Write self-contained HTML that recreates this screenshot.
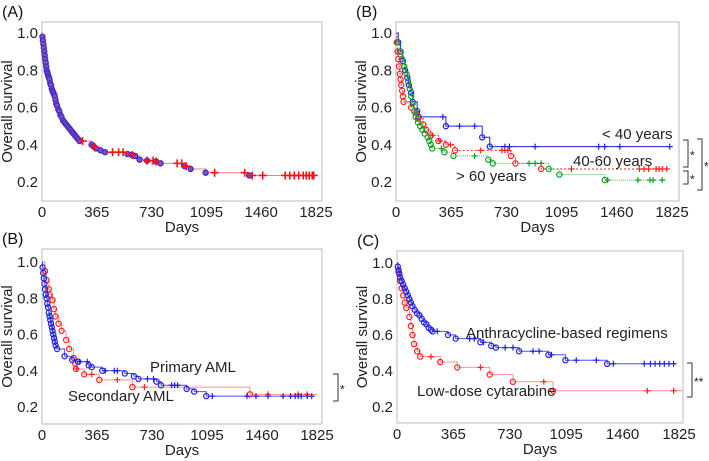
<!DOCTYPE html>
<html><head><meta charset="utf-8"><style>
html,body{margin:0;padding:0;background:#fff}
svg{display:block;font-family:"Liberation Sans",sans-serif}
</style></head><body>
<svg id="fig" width="709" height="461" viewBox="0 0 709 461"></svg>
<script>
// ---- Data ----
const xTicks=[0,365,730,1095,1460,1825];
const yTicks=[0.2,0.4,0.6,0.8,1.0];
const yTickLabels=["0.2","0.4","0.6","0.8","1.0"];
// Panel A
const aTimes=[0,3,6,9,12,15,18,21,25,28,31,35,38,42,46,50,55,60,65,70,75,80,85,90,95,100,108,115,122,130,140,150,160,170,180,190,200,210,220,230,240,250,330,345,360,390,420,570,600,620,650,700,760,790,950,990,1090,1380];
const aSurv=[1,0.98,0.96,0.94,0.92,0.90,0.88,0.86,0.84,0.82,0.80,0.79,0.78,0.77,0.76,0.75,0.73,0.72,0.70,0.69,0.68,0.67,0.66,0.64,0.62,0.61,0.59,0.58,0.56,0.55,0.53,0.52,0.51,0.50,0.49,0.48,0.47,0.46,0.45,0.44,0.43,0.42,0.40,0.39,0.38,0.37,0.36,0.35,0.345,0.34,0.32,0.315,0.31,0.30,0.285,0.27,0.25,0.235];
const aCens=[270,350,470,510,540,600,700,740,760,900,930,960,1150,1350,1400,1470,1620,1650,1680,1710,1740,1760,1780,1800,1810];
// Panel B (age)
const youngTimes=[0,15,30,45,60,75,85,100,110,140,150,330,570,620];
const youngSurv=[1,0.95,0.9,0.85,0.8,0.76,0.72,0.68,0.63,0.58,0.55,0.50,0.44,0.39];
const youngCens=[310,420,520,720,750,920,1340,1380,1480,1810];
const midTimes=[0,5,10,15,20,25,30,35,40,45,50,100,130,145,180,200,230,280,330,390,760,790,960];
const midSurv=[1,0.95,0.9,0.86,0.82,0.78,0.75,0.72,0.69,0.66,0.63,0.6,0.57,0.54,0.51,0.48,0.45,0.42,0.40,0.37,0.34,0.30,0.27];
const midCens=[240,290,360,560,700,720,740,1160,1610,1640,1670,1720,1740,1760,1790];
const oldTimes=[0,10,25,40,55,70,80,90,100,110,120,130,145,160,175,190,210,220,230,240,320,380,610,640,1010,1080,1380];
const oldSurv=[1,0.95,0.9,0.86,0.82,0.78,0.74,0.70,0.66,0.62,0.58,0.55,0.52,0.50,0.48,0.46,0.44,0.42,0.40,0.38,0.36,0.34,0.32,0.30,0.27,0.24,0.21];
const oldCens=[300,520,880,920,960,1400,1600,1680,1700,1760];
// Panel C (AML type)
const primTimes=[0,4,8,12,16,20,25,30,35,40,45,50,55,60,65,70,75,80,85,90,100,150,200,240,310,330,400,550,610,640,760,790,960,1010,1090];
const primSurv=[1,0.97,0.94,0.91,0.88,0.85,0.82,0.80,0.77,0.75,0.72,0.70,0.68,0.66,0.64,0.62,0.60,0.58,0.56,0.54,0.52,0.48,0.46,0.45,0.43,0.42,0.40,0.385,0.37,0.355,0.34,0.32,0.30,0.285,0.26];
const primCens=[250,300,420,480,500,700,740,860,880,900,1130,1360,1420,1500,1600,1650,1680,1700,1720,1760,1790];
const secTimes=[0,20,30,45,50,70,80,90,110,130,160,180,210,220,225,280,380,600,1380];
const secSurv=[1,0.95,0.90,0.85,0.82,0.79,0.74,0.70,0.66,0.62,0.57,0.52,0.47,0.44,0.41,0.38,0.35,0.31,0.27];
const secCens=[230,330,500,680,1500,1700,1760];
// Panel D (treatment)
const anthTimes=[0,5,10,15,20,30,40,50,60,70,80,90,100,115,130,145,160,175,190,205,220,230,330,380,540,610,640,790,980,1090,1360];
const anthSurv=[1,0.98,0.96,0.94,0.92,0.90,0.88,0.86,0.84,0.82,0.80,0.78,0.76,0.74,0.72,0.71,0.69,0.67,0.66,0.64,0.63,0.62,0.60,0.58,0.56,0.54,0.53,0.51,0.49,0.46,0.44];
const anthCens=[260,470,500,560,700,750,880,920,1000,1160,1290,1400,1600,1640,1670,1700,1730,1760,1790];
const ldcTimes=[0,10,20,30,40,50,60,80,90,100,110,130,150,280,390,600,750,1010];
const ldcSurv=[1,0.95,0.90,0.86,0.82,0.78,0.75,0.70,0.65,0.60,0.55,0.51,0.48,0.45,0.42,0.38,0.34,0.29];
const ldcCens=[220,540,950,1620,1790];

const NS="http://www.w3.org/2000/svg";
const svg=document.getElementById('fig');
function mk(tag,attrs,parent){const e=document.createElementNS(NS,tag);for(const k in attrs)e.setAttribute(k,attrs[k]);(parent||svg).appendChild(e);return e;}

function panel(p){
  const g=mk('g',{});
  
  
  const sx=t=>p.x0+(t/1825)*(p.x1825-p.x0);
  const sy=v=>p.y1+(p.y02-p.y1)*(1-v)/0.8;
  const box=mk('rect',{x:p.L,y:p.T,width:p.R-p.L,height:p.B-p.T,fill:'none',stroke:'#bbb','stroke-width':1},g);
  
  
  xTicks.forEach(t=>{
    const tx=mk('text',{x:sx(t),y:p.B+16,'text-anchor':'middle','font-size':15,fill:'#222'},g);
    tx.textContent=t;
    
    
  });
  yTicks.forEach((v,i)=>{
    const ty=mk('text',{x:p.L-4,y:sy(v)+5,'text-anchor':'end','font-size':15,fill:'#222'},g);
    ty.textContent=yTickLabels[i];
    
    
  });
  const xt=mk('text',{x:(p.L+p.R)/2,y:p.B+31,'text-anchor':'middle','font-size':15,fill:'#222'},g);
  xt.textContent='Days';
  
  
  const cy=(p.T+p.B)/2;
  const yt=mk('text',{x:p.L-30,y:cy,'text-anchor':'middle','font-size':15,fill:'#222',transform:`rotate(-90 ${p.L-30} ${cy})`},g);
  yt.textContent='Overall survival';
  
  
  const pl=mk('text',{x:p.L-40,y:p.T-5,'font-size':16,fill:'#111'},g);
  pl.textContent=p.label;
  
  
  p.series.forEach(s=>{
    const sg=mk('g',{},g);
    
    
    let d=`M${sx(s.t[0])},${sy(s.s[0])}`;
    for(let i=1;i<s.t.length;i++){d+=` H${sx(s.t[i])} V${sy(s.s[i])}`;}
    d+=` H${Math.min(sx(s.end),p.R)}`;
    const path=mk('path',{d,fill:'none',stroke:s.line,'stroke-width':1,'stroke-dasharray':s.dash||'none'},sg);
    
    
    for(let i=1;i<s.t.length;i++){
      const c=mk('circle',{cx:sx(s.t[i]),cy:sy(s.s[i]),r:2.6,fill:s.fill||'none',stroke:s.color,'stroke-width':1.2},sg);
      
      
    }
    s.c.forEach(t=>{
      let v=s.s[0];for(let i=0;i<s.t.length;i++){if(s.t[i]<=t)v=s.s[i];}
      const X=sx(t),Y=sy(v),h=s.cs||3;
      const cm=mk('path',{d:`M${X-h},${Y}H${X+h}M${X},${Y-h}V${Y+h}`,stroke:s.ccol||s.color,'stroke-width':s.cw||1.2},sg);
      
      
    });
  });
  (p.texts||[]).forEach(o=>{
    const t=mk('text',{x:o[1],y:o[2],'font-size':15,fill:'#222'},g);
    t.textContent=o[0];
    
    
  });
  (p.brackets||[]).forEach(b=>{
    const bp=mk('path',{d:`M${b[0]-5},${b[1]}H${b[0]}V${b[2]}H${b[0]-5}`,fill:'none',stroke:'#333','stroke-width':1},g);
    
    
    const st=mk('text',{x:b[0]+2,y:(b[1]+b[2])/2+6,'font-size':12,fill:'#222'},g);
    st.textContent=b[3];
    
    
  });
}

panel({name:'panel-a-overall',label:'(A)',L:42,R:322,T:22,B:201,x0:42,x1825:316,y1:33,y02:182,
  series:[{name:'series-all-patients',t:aTimes,s:aSurv,c:aCens,end:1810,color:'#4028c0',fill:'#8050c8',line:'#f08080',ccol:'#ff1010',cs:4,cw:1.6}]});
panel({name:'panel-b-age',label:'(B)',L:396,R:679,T:22,B:201,x0:396,x1825:672,y1:33,y02:182,
  series:[
   {name:'series-under-40',t:youngTimes,s:youngSurv,c:youngCens,end:1810,color:'#2020e0',line:'#2020e0'},
   {name:'series-40-60',t:midTimes,s:midSurv,c:midCens,end:1825,color:'#ff2020',line:'#ff2020',dash:'2,2'},
   {name:'series-over-60',t:oldTimes,s:oldSurv,c:oldCens,end:1780,color:'#10a020',line:'#60b060',dash:'1,1'}],
  texts:[['< 40 years',602,139],['40-60 years',573,166],['> 60 years',456,181]],
  brackets:[[688,140,167,'*'],[688,171,184,'*'],[702,139,190,'*']]});
panel({name:'panel-c-aml-type',label:'(B)',L:42,R:322,T:249,B:424,x0:42,x1825:317,y1:262,y02:407,
  series:[
   {name:'series-secondary-aml',t:secTimes,s:secSurv,c:secCens,end:1825,color:'#ff2020',line:'#ff9090'},
   {name:'series-primary-aml',t:primTimes,s:primSurv,c:primCens,end:1810,color:'#2020e0',line:'#5050f0'}],
  texts:[['Primary AML',150,372],['Secondary AML',68,401]],
  brackets:[[338,374,401,'*']]});
panel({name:'panel-d-treatment',label:'(C)',L:397,R:683,T:251,B:423,x0:397,x1825:679,y1:263,y02:407,
  series:[
   {name:'series-low-dose-cytarabine',t:ldcTimes,s:ldcSurv,c:ldcCens,end:1850,color:'#ff2020',line:'#ff9090'},
   {name:'series-anthracycline',t:anthTimes,s:anthSurv,c:anthCens,end:1810,color:'#2020e0',line:'#5050f0'}],
  texts:[['Anthracycline-based regimens',466,338],['Low-dose cytarabine',417,396]],
  brackets:[[692,363,397,'**']]});
</script>
</body></html>
